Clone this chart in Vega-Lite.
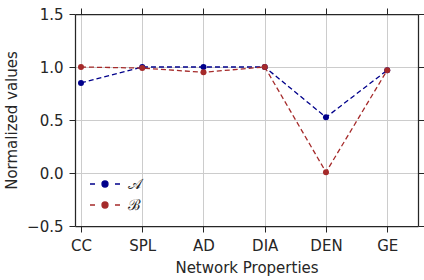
{
  "$schema": "https://vega.github.io/schema/vega-lite/v6.json",
  "width": 343,
  "height": 212,
  "autosize": {"type": "none"},
  "padding": {"left": 75, "top": 14, "right": 6, "bottom": 54},
  "config": {
    "font": "DejaVu Sans",
    "view": {"stroke": null},
    "axis": {
      "labelFont": "DejaVu Sans",
      "titleFont": "DejaVu Sans",
      "labelFontSize": 15,
      "titleFontSize": 15,
      "labelColor": "#262626",
      "titleColor": "#262626",
      "titleFontWeight": "normal",
      "domainColor": "#262626",
      "domainWidth": 1.25,
      "tickColor": "#262626",
      "tickWidth": 1,
      "tickSize": 6,
      "labelPadding": 6,
      "gridColor": "#cccccc",
      "gridWidth": 1
    }
  },
  "data": {
    "values": [
      {"property": "CC", "series": "𝒜", "value": 0.85},
      {"property": "SPL", "series": "𝒜", "value": 1.0},
      {"property": "AD", "series": "𝒜", "value": 1.0},
      {"property": "DIA", "series": "𝒜", "value": 1.0},
      {"property": "DEN", "series": "𝒜", "value": 0.525},
      {"property": "GE", "series": "𝒜", "value": 0.97},
      {"property": "CC", "series": "ℬ", "value": 1.0},
      {"property": "SPL", "series": "ℬ", "value": 0.99},
      {"property": "AD", "series": "ℬ", "value": 0.95},
      {"property": "DIA", "series": "ℬ", "value": 1.0},
      {"property": "DEN", "series": "ℬ", "value": 0.008},
      {"property": "GE", "series": "ℬ", "value": 0.97}
    ]
  },
  "layer": [
    {
      "mark": {"type": "point", "opacity": 0},
      "encoding": {
        "x": {"field": "property", "type": "nominal", "sort": ["CC", "SPL", "AD", "DIA", "DEN", "GE"],
              "scale": {"type": "point", "padding": 0.3, "align": 0.163},
              "axis": {"orient": "top", "labels": false, "grid": false, "title": null}},
        "y": {"field": "value", "type": "quantitative",
              "scale": {"domain": [-0.5, 1.5], "nice": false, "zero": false},
              "axis": {"orient": "right", "labels": false, "grid": false, "title": null, "values": [-0.5, 0, 0.5, 1, 1.5]}}
      }
    },
    {
      "mark": {"type": "line", "point": {"filled": true, "size": 36}, "strokeDash": [5, 3], "strokeWidth": 1.3},
      "encoding": {
        "x": {"field": "property", "type": "nominal", "sort": ["CC", "SPL", "AD", "DIA", "DEN", "GE"],
              "axis": {"orient": "bottom", "labelAngle": 0, "grid": true, "title": "Network Properties", "titlePadding": 7}},
        "y": {"field": "value", "type": "quantitative",
              "axis": {"orient": "left", "grid": true, "title": "Normalized values", "values": [-0.5, 0, 0.5, 1, 1.5], "format": ".1f", "titlePadding": 7}},
        "color": {"field": "series", "type": "nominal",
                  "scale": {"domain": ["𝒜", "ℬ"], "range": ["#00008b", "#a52a2a"]},
                  "legend": {
                    "orient": "none", "legendX": 19, "legendY": 159, "title": null,
                    "symbolType": "M-1.5,0H-1.0M1.0,0H1.5M-0.3,0A0.3,0.3 0 1,1 0.3,0A0.3,0.3 0 1,1 -0.3,0Z",
                    "symbolSize": 400, "symbolStrokeWidth": 1.3,
                    "labelFont": "DejaVu Serif", "labelFontSize": 15, "labelColor": "#262626",
                    "labelOffset": 12, "rowPadding": 2, "padding": 0
                  }}
      }
    }
  ],
  "resolve": {"axis": {"x": "independent", "y": "independent"}}
}
